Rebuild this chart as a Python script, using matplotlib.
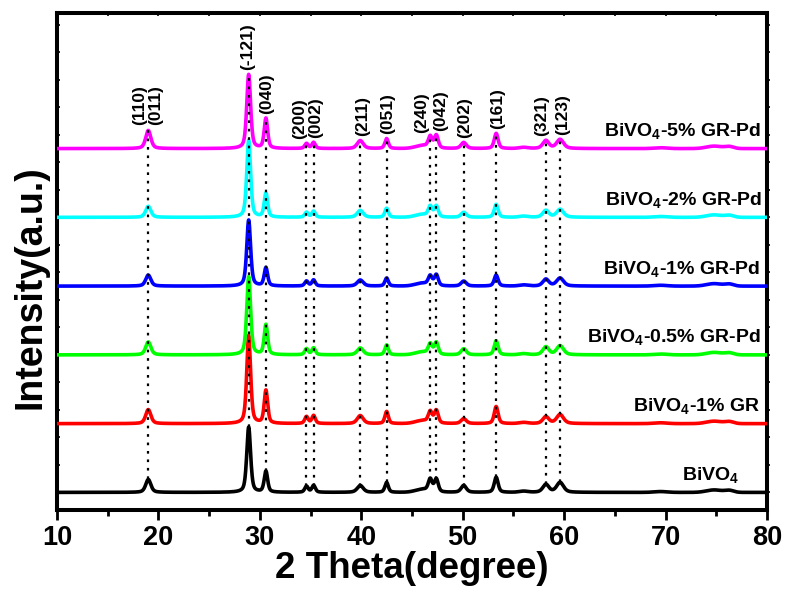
import matplotlib
matplotlib.use("Agg")
import matplotlib.pyplot as plt
import numpy as np

plt.rcParams["font.family"] = ["Liberation Sans", "DejaVu Sans"]
plt.rcParams["font.weight"] = "bold"
plt.rcParams["mathtext.fontset"] = "custom"
plt.rcParams["mathtext.bf"] = "Liberation Sans:bold"
plt.rcParams["mathtext.rm"] = "Liberation Sans:bold"

# ─── data ───────────────────────────────────────────────────────────
peak_pos = [19.0, 28.9, 30.6, 34.6, 35.3, 39.9, 42.5, 46.8, 47.4, 50.1, 53.3, 58.2, 59.6]
peak_fwhm = [0.6, 0.45, 0.40, 0.40, 0.40, 0.70, 0.40, 0.45, 0.45, 0.60, 0.45, 0.70, 0.80]
hkl = ["(110)", "(-121)", "(040)", "(200)", "(211)", "(051)", "(240)", "(202)",
       "(161)", "(321)", "(123)"]
hkl_pos = [18.1, 28.8, 30.7, 33.9, 40.1, 42.6, 46.0, 50.2, 53.4, 57.8, 59.9]
hkl_extra = ["(011)", "(002)", "(042)"]
hkl_extra_pos = [19.7, 35.5, 47.8]

# broad humps: position, width, height
hump_pos = [46.0, 56.0, 69.5, 74.8, 76.3]
hump_fwhm = [1.6, 1.0, 1.5, 1.8, 1.0]
hump_h = [10, 4, 3, 9, 7]

samples = ["BiVO4", "BiVO4-1% GR", "BiVO4-0.5% GR-Pd", "BiVO4-1% GR-Pd",
           "BiVO4-2% GR-Pd", "BiVO4-5% GR-Pd"]
labels = [r"BiVO$_{\mathbf{4}}$", r"BiVO$_{\mathbf{4}}$-1% GR",
          r"BiVO$_{\mathbf{4}}$-0.5% GR-Pd", r"BiVO$_{\mathbf{4}}$-1% GR-Pd",
          r"BiVO$_{\mathbf{4}}$-2% GR-Pd", r"BiVO$_{\mathbf{4}}$-5% GR-Pd"]
offsets = [0, 250, 500, 750, 1000, 1250]
heights = [
    [47, 237, 76, 22, 25, 25, 36, 44, 47, 25, 55, 29, 36],    # BiVO4
    [51, 320, 120, 25, 29, 29, 44, 40, 47, 18, 62, 25, 33],   # 1% GR
    [47, 284, 109, 22, 25, 25, 36, 36, 44, 22, 51, 29, 33],   # 0.5% GR-Pd
    [40, 240, 66, 18, 22, 22, 29, 33, 40, 18, 40, 25, 29],    # 1% GR-Pd
    [40, 280, 87, 18, 22, 25, 33, 36, 40, 18, 47, 25, 29],    # 2% GR-Pd
    [66, 269, 109, 18, 22, 29, 36, 40, 47, 22, 55, 29, 33],   # 5% GR-Pd
]
colors = ["#000000", "#ff0000", "#00ff00", "#0000ff", "#00ffff", "#ff00ff"]
label_x = [77.3, 79.3, 79.4, 79.3, 79.5, 79.4]


def pv(x, c, w, h, eta=0.5):
    g = np.exp(-4 * np.log(2) * ((x - c) / w) ** 2)
    lo = 1 / (1 + 4 * ((x - c) / w) ** 2)
    return h * (eta * lo + (1 - eta) * g)


two_theta = np.arange(10, 80.01, 0.02)

fig = plt.figure(figsize=(7.86, 5.9), dpi=100)
ax = fig.add_axes([0.0725, 0.1356, 0.9033, 0.8424])

for hs, off, col, lab, lx in zip(heights, offsets, colors, labels, label_x):
    y = np.zeros_like(two_theta) + off
    for c, w, h in zip(peak_pos, peak_fwhm, hs):
        y += pv(two_theta, c, w, h)
    for c, w, h in zip(hump_pos, hump_fwhm, hump_h):
        y += pv(two_theta, c, w, h, eta=0.0)
    ax.plot(two_theta, y, color=col, lw=2.6, zorder=3)
    ax.text(lx, off + 43, lab, ha="right", va="baseline", fontsize=14,
            fontweight="bold", zorder=5)

# dotted guide lines from the bottom trace to the top trace
ymin = [offsets[0] + h for h in heights[0]]
ymax = [offsets[-1] + h for h in heights[-1]]
ax.vlines(peak_pos, ymin, ymax, colors="black", lw=1.6,
          linestyles=(0, (1.2, 2.6)), zorder=4)

# Miller indices above the top trace
top_h = dict(zip(peak_pos, heights[-1]))
for txt, x in zip(hkl + hkl_extra, hkl_pos + hkl_extra_pos):
    near = min(peak_pos, key=lambda p: abs(p - x))
    ax.text(x, offsets[-1] + top_h[near] + 18, txt, rotation=90, ha="center",
            va="bottom", fontsize=12.5, fontweight="bold")

ax.set_xlim(10, 80)
ax.set_ylim(-64, 1743)
ax.set_xticks(range(10, 81, 10))
ax.set_xticks(range(15, 80, 10), minor=True)
ax.set_yticks(range(0, 1701, 100))
ax.set_yticklabels([])
ax.tick_params(axis="x", which="major", direction="out", length=7, width=2,
               labelsize=19.5, pad=4)
ax.tick_params(axis="x", which="minor", direction="out", length=4.5, width=2)
ax.tick_params(axis="y", which="major", direction="in", length=2, width=1.2)
for s in ax.spines.values():
    s.set_linewidth(2.9)

top = ax.secondary_xaxis("top")
top.set_xticks(range(15, 80, 5))
top.tick_params(direction="in", length=2, width=1.2, labeltop=False)
right = ax.secondary_yaxis("right")
right.set_yticks(range(0, 1701, 100))
right.tick_params(direction="out", length=2.5, width=1.2, labelright=False)

ax.set_xlabel("2 Theta(degree)", fontsize=26.5, fontweight="bold", labelpad=0)
ax.set_ylabel("Intensity(a.u.)", fontsize=27, fontweight="bold")
ax.yaxis.set_label_coords(-0.012, 0.449)

fig.savefig("out.png", dpi=100)
